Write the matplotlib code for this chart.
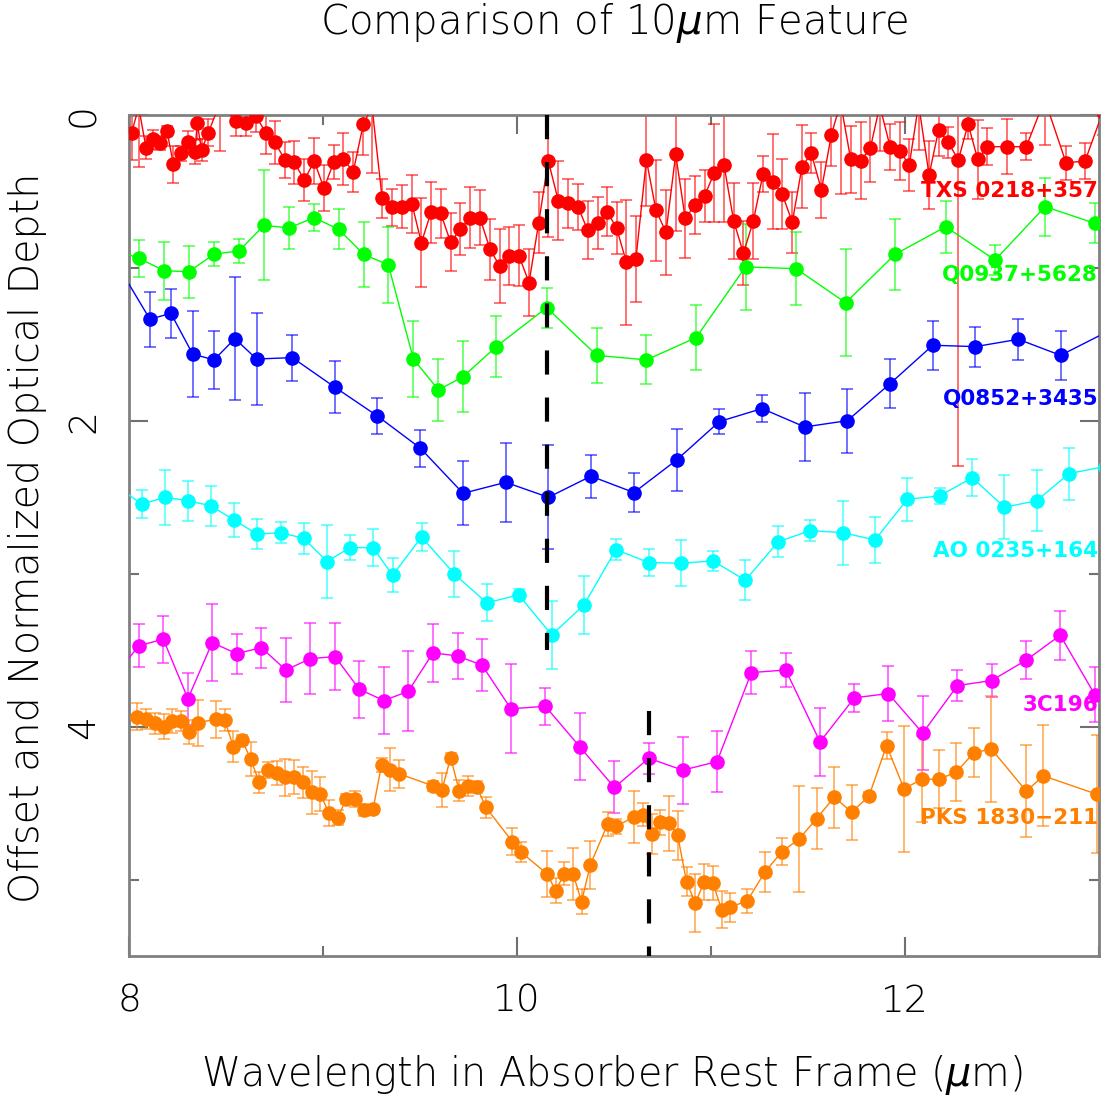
#!/usr/bin/env python3
# -*- coding: utf-8 -*-
"""
Plot: comparison of the 10 micron silicate feature in six absorbers.
Output: out.png
"""

import numpy as np
import matplotlib.pyplot as plt


OUT_FIG = "out.png"

# ---- data (offset optical depth) ----
TXS_X = [8.014, 8.05, 8.088, 8.122, 8.160, 8.196, 8.229, 8.266, 8.304, 8.340,
         8.352, 8.374, 8.409, 8.47, 8.550, 8.601, 8.653, 8.705, 8.753, 8.804,
         8.852, 8.904, 8.955, 9.005, 9.055, 9.105, 9.156, 9.208, 9.253, 9.305,
         9.357, 9.407, 9.459, 9.507, 9.557, 9.607, 9.658, 9.708, 9.759, 9.809,
         9.861, 9.911, 9.960, 10.010, 10.062, 10.112, 10.161, 10.213, 10.265, 10.314,
         10.364, 10.416, 10.465, 10.514, 10.564, 10.613, 10.667, 10.716, 10.768, 10.818,
         10.867, 10.918, 10.967, 11.017, 11.067, 11.117, 11.167, 11.218, 11.268, 11.318,
         11.367, 11.419, 11.469, 11.517, 11.569, 11.620, 11.668, 11.720, 11.771, 11.821,
         11.87, 11.923, 11.972, 12.022, 12.07, 12.124, 12.173, 12.223, 12.275, 12.325,
         12.375, 12.424, 12.524, 12.625, 12.72, 12.830, 12.928, 13.02]
TXS_Y = [0.117, -0.05, 0.216, 0.161, 0.183, 0.107, 0.324, 0.252, 0.178, 0.242,
         0.056, 0.231, 0.117, -0.08, 0.041, 0.056, 0.006, 0.117, 0.181, 0.296,
         0.311, 0.427, 0.303, 0.481, 0.311, 0.290, 0.372, 0.061, -0.05, 0.547,
         0.605, 0.601, 0.584, 0.837, 0.638, 0.645, 0.834, 0.747, 0.673, 0.673,
         0.880, 0.989, 0.921, 0.921, 1.098, 0.706, 0.300, 0.562, 0.579, 0.601,
         0.754, 0.706, 0.634, 0.743, 0.965, 0.943, 0.296, 0.623, 0.769, 0.259,
         0.677, 0.590, 0.531, 0.379, 0.329, 0.695, 0.906, 0.695, 0.388, 0.438,
         0.518, 0.703, 0.340, 0.252, 0.492, 0.133, -0.08, 0.292, 0.300, 0.220,
         -0.06, 0.209, 0.235, 0.329, -0.07, 0.394, 0.100, 0.181, 0.296, 0.061,
         0.292, 0.209, 0.209, 0.209, -0.10, 0.314, 0.303, -0.02]
TXS_ERR = [0.18, 0.39, 0.075, 0.06, 0.045, 0.035, 0.12, 0.05, 0.07, 0.08,
           0.10, 0.07, 0.09, 0.32, 0.10, 0.08, 0.11, 0.14, 0.14, 0.12,
           0.14, 0.14, 0.15, 0.15, 0.11, 0.17, 0.13, 0.20, 0.43, 0.13,
           0.12, 0.14, 0.19, 0.29, 0.20, 0.16, 0.19, 0.17, 0.20, 0.18,
           0.20, 0.24, 0.19, 0.20, 0.22, 0.20, 0.50, 0.26, 0.16, 0.15,
           0.19, 0.17, 0.16, 0.17, 0.41, 0.28, 0.30, 0.33, 0.28, 0.50,
           0.26, 0.19, 0.17, 0.32, 0.37, 0.25, 0.21, 0.25, 0.12, 0.31,
           0.23, 0.20, 0.27, 0.13, 0.18, 0.20, 0.60, 0.22, 0.25, 0.22,
           0.30, 0.15, 0.19, 0.17, 0.30, 0.22, 0.17, 0.10, 2.00, 0.10,
           0.26, 0.12, 0.18, 0.09, 0.30, 0.11, 0.12, 0.15]

Q0937_X = [7.92, 8.053, 8.182, 8.309, 8.440, 8.567, 8.696, 8.825, 8.954, 9.081,
           9.210, 9.337, 9.466, 9.595, 9.723, 9.893, 10.153, 10.411, 10.667, 10.923,
           11.178, 11.438, 11.694, 11.948, 12.210, 12.464, 12.722, 12.979]
Q0937_Y = [0.88, 0.939, 1.020, 1.026, 0.910, 0.891, 0.723, 0.740, 0.673, 0.749,
           0.913, 0.982, 1.597, 1.799, 1.712, 1.516, 1.261, 1.573, 1.603, 1.457,
           0.995, 1.006, 1.229, 0.913, 0.732, 0.950, 0.601, 0.710]
Q0937_ERR = [0.12, 0.12, 0.19, 0.17, 0.08, 0.08, 0.36, 0.14, 0.09, 0.13,
             0.21, 0.25, 0.25, 0.20, 0.23, 0.20, 0.13, 0.18, 0.16, 0.21,
             0.28, 0.24, 0.35, 0.23, 0.17, 0.10, 0.19, 0.13]

Q0852_X = [7.94, 8.108, 8.216, 8.328, 8.438, 8.546, 8.658, 8.842, 9.062, 9.280,
           9.502, 9.722, 9.942, 10.162, 10.381, 10.603, 10.823, 11.043, 11.263, 11.483,
           11.703, 11.923, 12.143, 12.363, 12.584, 12.802, 13.04]
Q0852_Y = [0.98, 1.337, 1.298, 1.564, 1.603, 1.464, 1.597, 1.588, 1.782, 1.969,
           2.180, 2.475, 2.403, 2.501, 2.363, 2.470, 2.257, 2.006, 1.921, 2.041,
           2.000, 1.758, 1.507, 1.516, 1.468, 1.573, 1.42]
Q0852_ERR = [0.20, 0.18, 0.16, 0.28, 0.19, 0.40, 0.30, 0.15, 0.17, 0.12,
             0.12, 0.21, 0.26, 0.34, 0.14, 0.13, 0.20, 0.08, 0.09, 0.22,
             0.21, 0.16, 0.16, 0.13, 0.135, 0.16, 0.15]

AO0235_X = [7.95, 8.065, 8.186, 8.304, 8.423, 8.543, 8.661, 8.782, 8.900, 9.021,
            9.139, 9.258, 9.359, 9.508, 9.677, 9.844, 10.009, 10.179, 10.345, 10.510,
            10.679, 10.845, 11.010, 11.177, 11.347, 11.512, 11.678, 11.845, 12.012, 12.178,
            12.347, 12.512, 12.679, 12.845, 13.03]
AO0235_Y = [2.44, 2.546, 2.501, 2.523, 2.557, 2.651, 2.742, 2.732, 2.769, 2.921,
            2.830, 2.830, 3.011, 2.760, 3.002, 3.191, 3.139, 3.401, 3.205, 2.843,
            2.928, 2.932, 2.917, 3.043, 2.791, 2.719, 2.732, 2.780, 2.514, 2.492,
            2.373, 2.566, 2.523, 2.346, 2.30]
AO0235_ERR = [0.10, 0.09, 0.18, 0.13, 0.13, 0.11, 0.10, 0.07, 0.10, 0.24,
              0.08, 0.12, 0.11, 0.09, 0.15, 0.12, 0.04, 0.22, 0.19, 0.07,
              0.09, 0.15, 0.065, 0.13, 0.10, 0.07, 0.21, 0.15, 0.14, 0.055,
              0.12, 0.21, 0.20, 0.17, 0.14]

C196_X = [7.93, 8.052, 8.177, 8.304, 8.429, 8.555, 8.682, 8.809, 8.935, 9.062,
          9.187, 9.314, 9.440, 9.567, 9.694, 9.820, 9.969, 10.146, 10.323, 10.502,
          10.679, 10.854, 11.031, 11.208, 11.385, 11.562, 11.739, 11.914, 12.091, 12.270,
          12.446, 12.624, 12.800, 12.979]
C196_Y = [3.66, 3.471, 3.429, 3.818, 3.451, 3.523, 3.484, 3.630, 3.556, 3.542,
          3.756, 3.830, 3.769, 3.518, 3.538, 3.599, 3.884, 3.867, 4.131, 4.398,
          4.207, 4.285, 4.229, 3.647, 3.630, 4.100, 3.812, 3.784, 4.043, 3.732,
          3.699, 3.566, 3.403, 3.793]
C196_ERR = [0.15, 0.14, 0.155, 0.17, 0.25, 0.13, 0.13, 0.21, 0.23, 0.22,
            0.185, 0.22, 0.26, 0.19, 0.15, 0.17, 0.29, 0.12, 0.22, 0.17,
            0.10, 0.22, 0.20, 0.14, 0.11, 0.22, 0.09, 0.18, 0.24, 0.10,
            0.11, 0.125, 0.16, 0.18]

PKS_X = [8.043, 8.088, 8.134, 8.179, 8.223, 8.268, 8.312, 8.357, 8.448, 8.493,
         8.538, 8.582, 8.627, 8.671, 8.716, 8.761, 8.806, 8.852, 8.897, 8.942,
         8.986, 9.031, 9.076, 9.120, 9.167, 9.211, 9.258, 9.302, 9.347, 9.392,
         9.569, 9.613, 9.658, 9.702, 9.747, 9.794, 9.840, 9.976, 10.021, 10.155,
         10.199, 10.244, 10.289, 10.333, 10.378, 10.467, 10.512, 10.602, 10.648, 10.694,
         10.739, 10.784, 10.828, 10.874, 10.919, 10.964, 11.010, 11.055, 11.100, 11.187,
         11.277, 11.366, 11.455, 11.544, 11.636, 11.725, 11.814, 11.905, 11.995, 12.086,
         12.175, 12.264, 12.354, 12.445, 12.625, 12.713, 12.988]
PKS_Y = [3.935, 3.952, 3.978, 4.000, 3.965, 3.965, 4.037, 3.974, 3.952, 3.956,
         4.131, 4.087, 4.211, 4.364, 4.283, 4.305, 4.331, 4.331, 4.364, 4.429,
         4.440, 4.566, 4.595, 4.473, 4.473, 4.544, 4.540, 4.250, 4.283, 4.309,
         4.388, 4.414, 4.203, 4.418, 4.388, 4.396, 4.529, 4.752, 4.821, 4.963,
         5.072, 4.963, 4.963, 5.144, 4.904, 4.638, 4.653, 4.590, 4.575, 4.701,
         4.627, 4.631, 4.710, 5.015, 5.154, 5.017, 5.024, 5.198, 5.180, 5.139,
         4.952, 4.817, 4.734, 4.601, 4.461, 4.560, 4.455, 4.124, 4.407, 4.344,
         4.344, 4.298, 4.172, 4.146, 4.422, 4.322, 4.442]
PKS_ERR = [0.09, 0.065, 0.07, 0.08, 0.08, 0.065, 0.08, 0.15, 0.12, 0.07,
           0.10, 0.035, 0.11, 0.07, 0.05, 0.08, 0.12, 0.11, 0.10, 0.14,
           0.11, 0.085, 0.05, 0.03, 0.055, 0.04, 0.03, 0.045, 0.14, 0.09,
           0.03, 0.11, 0.03, 0.07, 0.065, 0.04, 0.07, 0.09, 0.065, 0.15,
           0.08, 0.075, 0.17, 0.08, 0.155, 0.08, 0.05, 0.17, 0.075, 0.13,
           0.08, 0.18, 0.16, 0.095, 0.19, 0.12, 0.11, 0.12, 0.095, 0.08,
           0.13, 0.09, 0.345, 0.20, 0.20, 0.18, 0.03, 0.09, 0.41, 0.28,
           0.19, 0.19, 0.16, 0.345, 0.30, 0.33, 0.385]

SOURCES = ["TXS 0218+357", "Q0937+5628", "Q0852+3435", "AO 0235+164", "3C196", "PKS 1830\u2212211"]
COLORS = ["#ff0000", "#00ff00", "#0000ff", "#00ffff", "#ff00ff", "#ff8000"]
LABEL_Y = [0.50, 1.05, 1.86, 2.85, 3.86, 4.60]

# redshifted feature positions marked with dashed lines: (x, y from, y to)
MARK_X = [10.153, 10.68]
MARK_Y0 = [0.0, 3.9]
MARK_Y1 = [3.5, 5.5]


def main():
    series = [
        (TXS_X, TXS_Y, TXS_ERR),
        (Q0937_X, Q0937_Y, Q0937_ERR),
        (Q0852_X, Q0852_Y, Q0852_ERR),
        (AO0235_X, AO0235_Y, AO0235_ERR),
        (C196_X, C196_Y, C196_ERR),
        (PKS_X, PKS_Y, PKS_ERR),
    ]

    fig = plt.figure(figsize=(11.07, 10.99), dpi=100)
    ax = fig.add_axes([0.1165, 0.1301, 0.8763, 0.7655])

    for (x, y, e), col in zip(series, COLORS):
        ax.errorbar(x, y, yerr=e, fmt="none", ecolor=col, elinewidth=1.2,
                    capsize=4.5, capthick=1.2, alpha=0.65, zorder=2)
        ax.plot(x, y, "-o", color=col, lw=1.0, ms=9.5, zorder=3)

    for name, col, ly in zip(SOURCES, COLORS, LABEL_Y):
        ax.text(12.995, ly, name, color=col, fontsize=15.5, fontweight="bold",
                ha="right", va="center", zorder=5)

    for mx, y0, y1 in zip(MARK_X, MARK_Y0, MARK_Y1):
        ax.plot([mx, mx], [y0, y1], color="black", lw=3, ls=(0, (5.8, 5.5)), zorder=4)

    ax.set_xlim(8, 13)
    ax.set_ylim(5.5, 0)
    ax.set_xticks([8, 10, 12])
    ax.set_xticks([9, 11, 13], minor=True)
    ax.set_yticks([0, 2, 4])
    ax.set_yticks([1, 3, 5], minor=True)

    for sp in ax.spines.values():
        sp.set_color("#808080")
        sp.set_linewidth(2)
    ax.tick_params(which="both", direction="in", top=True, right=True, color="#707070")
    ax.tick_params(which="major", length=14, width=1.5, labelsize=27, pad=20)
    ax.tick_params(which="minor", length=7, width=1.5)
    ax.tick_params(axis="y", which="major", labelrotation=90)
    for lab in ax.get_xticklabels() + ax.get_yticklabels():
        lab.set_fontweight("light")
    for lab in ax.get_yticklabels():
        lab.set_va("center")

    fig.text(0.555, 0.979, r"Comparison of 10$\mu$m Feature", ha="center", va="center",
             fontsize=29, fontweight="light")
    fig.text(0.553, 0.022, r"Wavelength in Absorber Rest Frame ($\mu$m)", ha="center",
             va="center", fontsize=28.5, fontweight="light")
    fig.text(0.025, 0.511, "Offset and Normalized Optical Depth", ha="center", va="center",
             rotation=90, fontsize=28.5, fontweight="light")

    fig.savefig(OUT_FIG, dpi=100)
    plt.close(fig)


if __name__ == "__main__":
    main()
